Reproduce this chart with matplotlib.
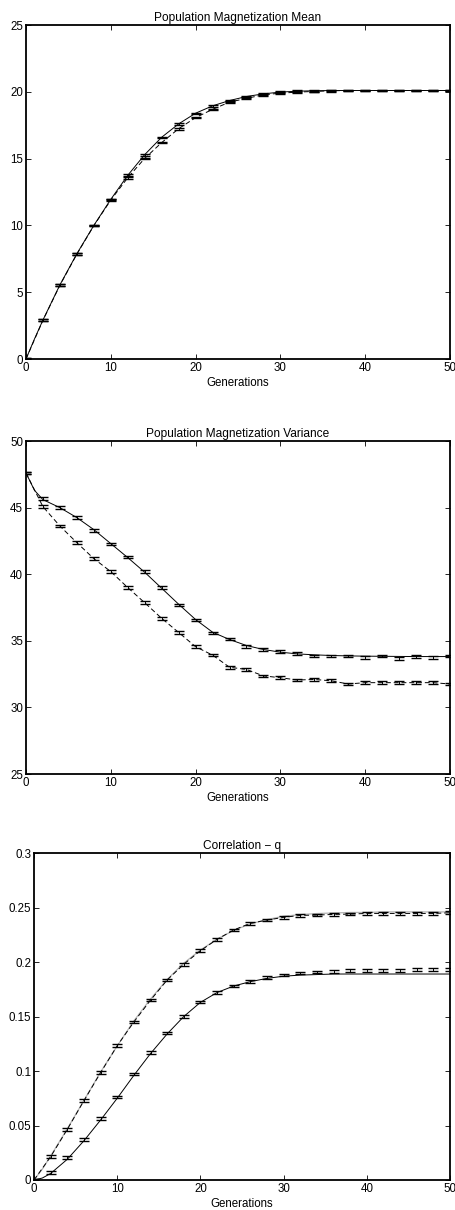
import matplotlib
matplotlib.use("Agg")
import matplotlib.pyplot as plt
from matplotlib.ticker import FormatStrFormatter
import numpy as np

plt.rcParams["font.family"] = ["Liberation Sans", "DejaVu Sans"]
plt.rcParams["font.size"] = 8

# generations where the theory curves are sampled / where simulation points sit
gens_line = [0, 1] + list(range(2, 51, 2))
gens_err = list(range(0, 51, 2))

# --- Population magnetization mean ---
mean_solid_line = [0, 1.5, 2.92, 5.55, 7.88, 10.0, 11.95, 13.75, 15.3, 16.6, 17.6, 18.4,
                   18.95, 19.35, 19.65, 19.85, 19.98, 20.05, 20.08, 20.1, 20.1, 20.1,
                   20.1, 20.1, 20.1, 20.1, 20.1]
mean_solid_err = [0, 2.92, 5.54, 7.86, 10.0, 11.95, 13.77, 15.27, 16.59, 17.59, 18.39,
                  18.94, 19.33, 19.65, 19.85, 19.98, 20.05, 20.08, 20.1, 20.1, 20.1,
                  20.1, 20.1, 20.1, 20.1, 20.1]
mean_dashed_err = [0, 2.9, 5.52, 7.85, 9.98, 11.9, 13.57, 15.02, 16.2, 17.24, 18.07,
                   18.69, 19.23, 19.51, 19.78, 19.9, 19.98, 20.03, 20.08, 20.1, 20.1,
                   20.1, 20.1, 20.1, 20.1, 20.1]

# --- Population magnetization variance ---
var_solid_line = [47.6, 46.3, 45.6, 45.0, 44.25, 43.35, 42.3, 41.25, 40.15, 38.95, 37.75,
                  36.6, 35.65, 35.1, 34.65, 34.35, 34.15, 34.02, 33.95, 33.9, 33.87,
                  33.85, 33.84, 33.83, 33.82, 33.82, 33.82]
var_solid_err = [47.6, 45.7, 45.0, 44.26, 43.3, 42.28, 41.29, 40.2, 39.0, 37.69, 36.56,
                 35.6, 35.13, 34.56, 34.36, 34.18, 34.06, 33.86, 33.86, 33.86, 33.76,
                 33.86, 33.66, 33.8, 33.76, 33.86]
var_dashed_err = [47.6, 45.07, 43.62, 42.37, 41.17, 40.2, 39.0, 37.86, 36.69, 35.63, 34.56,
                  33.93, 33.02, 32.85, 32.37, 32.23, 32.06, 32.1, 32.0, 31.76, 31.86,
                  31.86, 31.86, 31.86, 31.86, 31.76]

# --- Correlation q ---
q_lower_line = [0, 0.0018, 0.006, 0.019, 0.036, 0.055, 0.075, 0.096, 0.116, 0.134, 0.150,
                0.163, 0.172, 0.178, 0.182, 0.185, 0.187, 0.188, 0.1885, 0.189, 0.189,
                0.189, 0.189, 0.189, 0.189, 0.189, 0.189]
q_lower_err = [0, 0.0067, 0.0205, 0.0373, 0.0563, 0.076, 0.0972, 0.1168, 0.135, 0.150,
               0.1633, 0.172, 0.178, 0.182, 0.186, 0.188, 0.190, 0.191, 0.1915, 0.192,
               0.192, 0.1925, 0.1925, 0.193, 0.193, 0.193]
q_upper_line = [0, 0.010, 0.022, 0.047, 0.073, 0.099, 0.123, 0.146, 0.166, 0.184, 0.199,
                0.211, 0.221, 0.229, 0.235, 0.239, 0.242, 0.2435, 0.2445, 0.245, 0.2455,
                0.2455, 0.246, 0.246, 0.246, 0.246, 0.246]
q_upper_err = [0, 0.0214, 0.0465, 0.0728, 0.0985, 0.1232, 0.145, 0.165, 0.1835, 0.198,
               0.2104, 0.2208, 0.2294, 0.2355, 0.2385, 0.241, 0.2428, 0.2431, 0.2437,
               0.244, 0.2446, 0.2446, 0.2446, 0.2446, 0.2446, 0.2452]

dash = (0, (5, 3))


def style_axes(ax, ylim, yticks, title):
    ax.set_xlim(0, 50)
    ax.set_ylim(*ylim)
    ax.set_xticks([0, 10, 20, 30, 40, 50])
    ax.set_yticks(yticks)
    ax.yaxis.set_major_formatter(FormatStrFormatter("%g"))
    ax.tick_params(direction="in", length=3.5, width=0.6, top=True, right=True,
                   labelsize=8.3, pad=2)
    for s in ax.spines.values():
        s.set_linewidth(1.3)
    ax.set_xlabel("Generations", fontsize=8.3, labelpad=2)
    ax.set_title(title, fontsize=8.6, pad=3)


def draw_err(ax, y, yerr):
    ax.errorbar(gens_err, y, yerr=yerr, fmt="none", ecolor="black", elinewidth=0.7,
                capsize=3.5, capthick=1.0, zorder=3)


fig = plt.figure(figsize=(4.56, 12.1), dpi=100)

ax1 = fig.add_axes([0.057, 0.7033, 0.9298, 0.276])
ax1.plot(gens_line, mean_solid_line, color="black", lw=0.7)
ax1.plot(gens_err, mean_dashed_err, color="black", lw=0.7, linestyle=dash)
draw_err(ax1, mean_solid_err, 0.06)
draw_err(ax1, mean_dashed_err, 0.06)
style_axes(ax1, (0, 25), [0, 5, 10, 15, 20, 25], "Population Magnetization Mean")

ax2 = fig.add_axes([0.057, 0.3603, 0.9298, 0.2752])
ax2.plot(gens_line, var_solid_line, color="black", lw=0.7)
ax2.plot(gens_err, var_dashed_err, color="black", lw=0.7, linestyle=dash)
draw_err(ax2, var_solid_err, 0.1)
draw_err(ax2, var_dashed_err, 0.1)
style_axes(ax2, (25, 50), [25, 30, 35, 40, 45, 50], "Population Magnetization Variance")

ax3 = fig.add_axes([0.0746, 0.0248, 0.9123, 0.2702])
ax3.plot(gens_line, q_lower_line, color="black", lw=0.7)
ax3.plot(gens_line, q_upper_line, color="0.7", lw=0.9)
ax3.plot(gens_err, q_upper_err, color="black", lw=0.7, linestyle=dash)
draw_err(ax3, q_lower_err, 0.0012)
draw_err(ax3, q_upper_err, 0.0012)
style_axes(ax3, (0, 0.3), [0, 0.05, 0.1, 0.15, 0.2, 0.25, 0.3], "Correlation \u2212 q")

fig.savefig("out.png", dpi=100)
